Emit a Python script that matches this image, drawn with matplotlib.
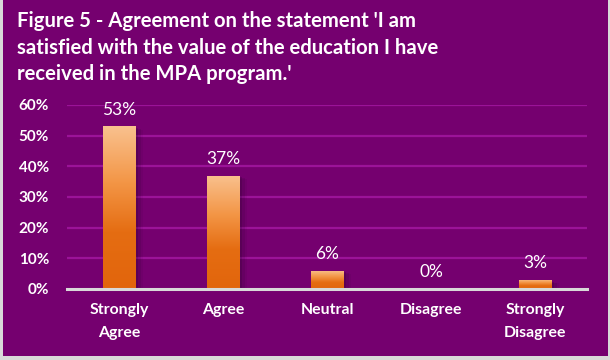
import matplotlib
matplotlib.use("Agg")
import matplotlib.pyplot as plt
import numpy as np
from matplotlib.patches import Rectangle
from matplotlib.colors import LinearSegmentedColormap
from matplotlib.font_manager import FontProperties

categories = ["Strongly\nAgree", "Agree", "Neutral", "Disagree", "Strongly\nDisagree"]
values = [53, 37, 6, 0, 3]
value_labels = ["53%", "37%", "6%", "0%", "3%"]
yticks = [0, 10, 20, 30, 40, 50, 60]
ytick_labels = ["0%", "10%", "20%", "30%", "40%", "50%", "60%"]
title_lines = ["Figure 5 - Agreement on the statement 'I am",
               "satisfied with the value of the education I have",
               "received in the MPA program.'"]

W, H = 610, 360
DPI = 100
PURPLE = "#75006F"
GRID = "#9B1398"
FONT = ["Lato", "DejaVu Sans"]

fig = plt.figure(figsize=(W / DPI, H / DPI), dpi=DPI)
renderer = fig.canvas.get_renderer()


def text_metrics(s, size, weight):
    fp = FontProperties(family=FONT, size=size, weight=weight)
    return renderer.get_text_width_height_descent(s, fp, ismath=False)


def fit_size(s, target_px, weight, base=12.0):
    w, _, _ = text_metrics(s, base, weight)
    return base * target_px / w


def spacing_for(size, weight, target_px):
    _, h, d = text_metrics("lp", size, weight)
    return target_px / (h - d)


fig.patch.set_facecolor("#D9D9D9")
fig.add_artist(Rectangle((3 / W, 1 - 356 / H), (608 - 3) / W, 356 / H,
                         transform=fig.transFigure, facecolor=PURPLE,
                         edgecolor="none", zorder=0))

x0, x1 = 67, 587
y_top, y_bot = 105, 289
ax = fig.add_axes([x0 / W, 1 - y_bot / H, (x1 - x0) / W, (y_bot - y_top) / H])
ax.set_facecolor("none")

for t in yticks[1:]:
    ax.axhline(t, color=GRID, lw=1.6, zorder=1)
ax.axhline(0, color="#D9D9D9", lw=2.2, zorder=5, clip_on=False)

for s in ax.spines.values():
    s.set_visible(False)

cmap = LinearSegmentedColormap.from_list(
    "bar", [(0.0, "#E2650C"), (0.35, "#E56D12"), (0.65, "#F39545"), (1.0, "#F9C18E")])
grad = np.linspace(0, 1, 256).reshape(-1, 1)

data_size = fit_size("53%", 34, "normal")
bw = 0.31
xs = np.arange(len(categories))
for xi, v, lab in zip(xs, values, value_labels):
    if v > 0:
        for k, a in enumerate([0.20, 0.13, 0.07]):
            ax.add_patch(Rectangle((xi - bw / 2 + 0.03 + k * 0.025, 0), bw, max(v - 0.6 - k * 0.3, 0.3),
                                   facecolor="#2A0030", alpha=a, edgecolor="none", zorder=2))
        rect = Rectangle((xi - bw / 2, 0), bw, v, facecolor="none", edgecolor="none", zorder=3)
        ax.add_patch(rect)
        im = ax.imshow(grad, cmap=cmap, aspect="auto", origin="lower",
                       extent=(xi - bw / 2, xi + bw / 2, 0, v), zorder=3)
        im.set_clip_path(rect)
    ax.text(xi, v + 3.9, lab, ha="center", va="baseline", color="white",
            fontsize=data_size, family=FONT, zorder=6)

ax.set_xlim(-0.5, len(categories) - 0.5)
ax.set_ylim(0, 60)

ytick_size = fit_size("60%", 30, "bold")
ax.set_yticks(yticks)
ax.set_yticklabels(ytick_labels, family=FONT, fontsize=ytick_size, color="white", fontweight="bold")

xlab_size = fit_size("Strongly", 59, "bold")
xls = spacing_for(xlab_size, "bold", 20)
ax.set_xticks(xs)
ax.set_xticklabels(categories, family=FONT, fontsize=xlab_size, color="white",
                   fontweight="bold", linespacing=xls)
ax.tick_params(axis="both", length=0)
ax.tick_params(axis="y", pad=13)
ax.tick_params(axis="x", pad=10)

title_size = fit_size(title_lines[0], 396, "bold")
for i, line in enumerate(title_lines):
    baseline = 27 + i * 26.5
    fig.text(17 / W, 1 - baseline / H, line, ha="left", va="baseline", color="white",
             fontsize=title_size, family=FONT, fontweight="bold")

fig.savefig("out.png", dpi=DPI, facecolor=fig.get_facecolor())
